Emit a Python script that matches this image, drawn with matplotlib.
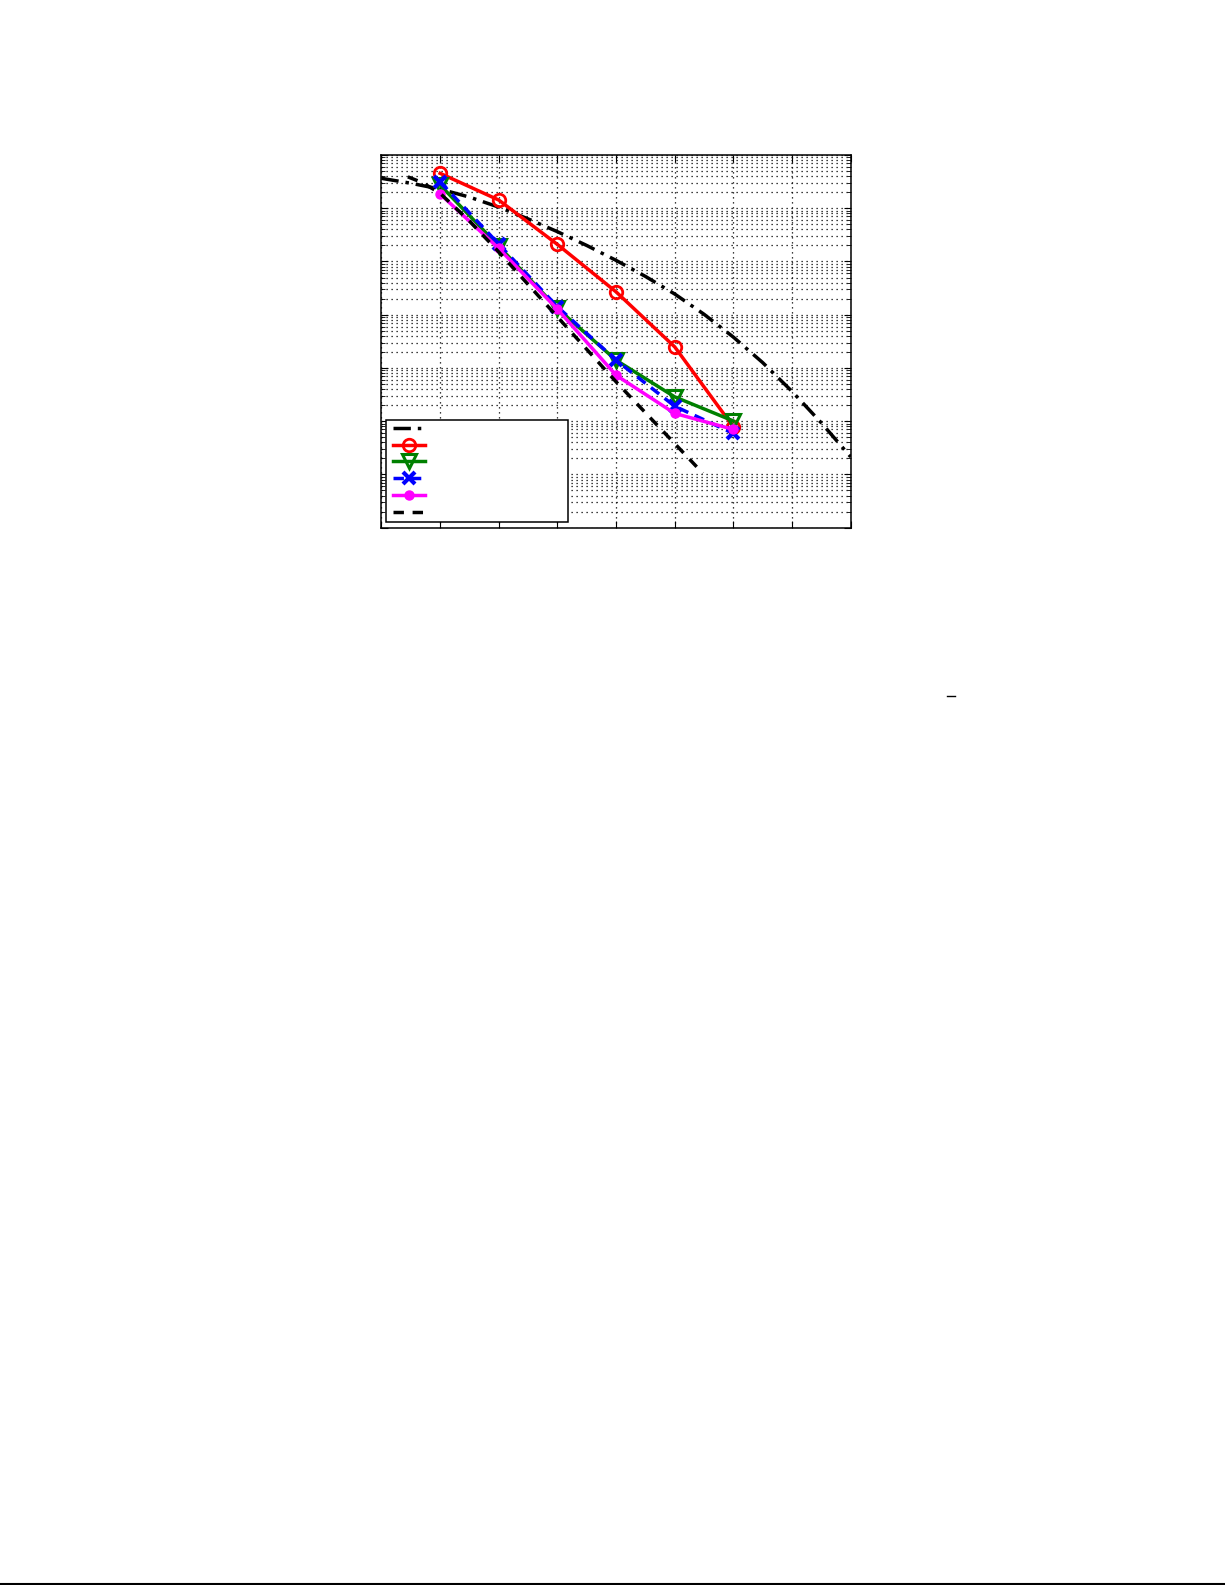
import matplotlib
matplotlib.use('Agg')
import matplotlib.pyplot as plt
from matplotlib.lines import Line2D
from matplotlib.legend_handler import HandlerLine2D

# x axis (dB), y axis error rate on log scale
snr = [2, 4, 6, 8, 10, 12]

# smooth reference curve (dash-dot), read every 1 dB
ref_x = [0, 1, 2, 3, 4, 5, 6, 7, 8, 9, 10, 11, 12, 13, 14, 15, 16]
ref_y = [0.365, 0.295, 0.229, 0.162, 0.105, 0.0631, 0.0363, 0.0200, 0.0105,
         5.25e-3, 2.45e-3, 1.02e-3, 3.80e-4, 1.26e-4, 3.63e-5, 9.3e-6, 2.14e-6]

red_y = [0.453, 0.1426, 0.0209, 2.69e-3, 2.49e-4, 7.8e-6]
green_y = [0.273, 0.01945, 1.31e-3, 1.40e-4, 2.86e-5, 1.01e-5]
blue_y = [0.315, 0.0212, 1.41e-3, 1.40e-4, 1.91e-5, 5.9e-6]
magenta_y = [0.185, 0.0176, 1.27e-3, 7.3e-5, 1.40e-5, 7.0e-6]

# bound curve (dashed)
bound_x = [0.9, 1.4, 2, 3, 4, 6, 8, 10, 10.96]
bound_y = [0.389, 0.302, 0.191, 0.0575, 0.0151, 9.1e-4, 5.5e-5, 3.8e-6, 1.05e-6]

fig = plt.figure(figsize=(12.25, 15.85), dpi=100)
ax = fig.add_axes([0.3114, 0.6671, 0.3830, 0.2351])

lw = 2.5
h1, = ax.plot(ref_x, ref_y, color='k', lw=lw, ls=(0, (5, 2, 1, 2)))
h2, = ax.plot(snr, red_y, '-o', color='r', lw=lw, ms=9, mfc='none', mew=2)
h3, = ax.plot(snr, green_y, '-v', color=(0, 0.5, 0), lw=lw, ms=10, mfc='none', mew=2.2)
h4, = ax.plot(snr, blue_y, 'x', color='b', lw=lw, ls=(0, (3, 2)), ms=8, mew=3)
h5, = ax.plot(snr, magenta_y, '-o', color='#ff00ff', lw=lw, ms=6.5)
h6, = ax.plot(bound_x, bound_y, color='k', lw=lw, ls=(0, (3, 2.5)))

ax.set_yscale('log')
ax.set_xlim(0, 16)
ax.set_ylim(1e-7, 1)
ax.set_xticks(range(0, 17, 2))
gstyle = dict(ls=(0, (1, 3)), color='k', lw=0.9)
ax.grid(True, which='major', axis='x', **gstyle)
ax.grid(True, which='both', axis='y', **gstyle)
ax.tick_params(which='both', direction='in', top=True, right=True,
               labelbottom=False, labelleft=False)
ax.tick_params(which='major', length=5)
ax.tick_params(which='minor', length=3)
for s in ax.spines.values():
    s.set_linewidth(1.1)

leg = ax.legend([h1, h2, h3, h4, h5, h6], [' '] * 6,
                loc='lower left', bbox_to_anchor=(0.0096, 0.0158, 0.3874, 0.2749),
                mode='expand', borderaxespad=0, fancybox=False, fontsize=11,
                handlelength=2.45, labelspacing=0.12, borderpad=0.1,
                handler_map={Line2D: HandlerLine2D(xpad=0.35)})
leg.get_frame().set_edgecolor('k')
leg.get_frame().set_linewidth(1.1)
leg.get_frame().set_alpha(1)

# stray fraction bar and bottom rule from the page
fig.add_artist(Line2D([947 / 1225, 955 / 1225], [1 - 696 / 1585] * 2, color='k', lw=1))
fig.add_artist(Line2D([0, 1], [1.0 / 1585] * 2, color='k', lw=1.5))

fig.savefig('out.png', dpi=100)
